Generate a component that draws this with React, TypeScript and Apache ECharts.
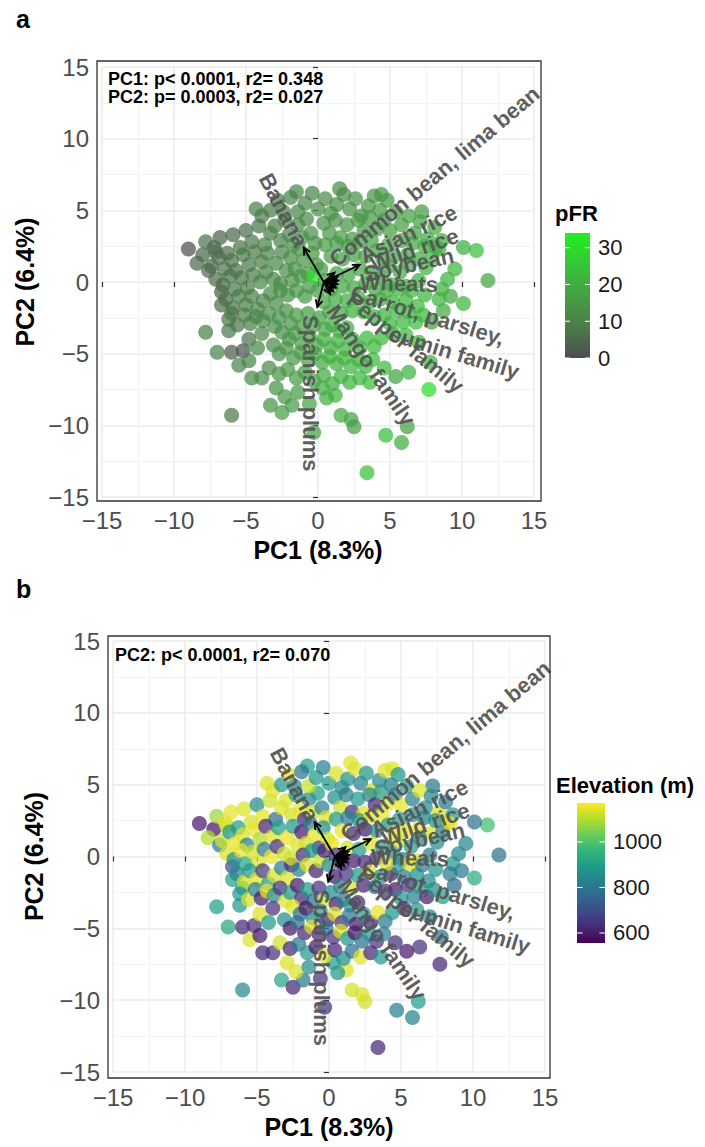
import React, { useEffect, useRef } from "react";
import * as echarts from "echarts";

// ---------- point data (PCA scores, same samples in both panels) ----------
const pc1 = [
  -9.0, -8.0, -8.4, -7.6, -7.1, -7.8, -6.7, -6.7, -6.0, -7.8,
  -6.2, -7.0, -6.0, -5.2, -4.8, -5.5, -4.6, -3.9, -3.3, -2.5,
  -2.9, -6.0, -1.8, -0.3, 0.3, 1.2, 2.3, 2.5, 3.4, 1.6,
  4.7, 5.8, 6.2, 7.7, 6.3, 5.4, 7.8, 7.9, 8.7, 10.1,
  9.2, 11.8, 11.0, 10.1, 8.2, 7.2, 4.4, 1.5, -1.5, -4.3,
  -7.2, -6.8, -6.3, -5.9, -5.4, -5.0, -4.6, -4.1, -3.7, -3.3,
  -7.4, -6.9, -6.5, -6.0, -5.7, -5.2, -4.8, -4.4, -3.9, -3.5,
  -7.1, -6.6, -6.1, -5.8, -5.3, -4.9, -4.5, -4.0, -3.6, -3.1,
  -6.4, -5.9, -5.5, -5.0, -4.6, -4.2, -3.8, -3.3, -2.9, -2.6,
  -6.2, -5.6, -5.1, -4.7, -4.3, -3.8, -3.4, -3.0, -2.7, -2.2,
  -3.0, -2.6, -2.3, -2.0, -1.7, -1.4, -1.1, -0.8, -0.5, -0.2,
  -2.9, -2.5, -2.2, -1.9, -1.6, -1.3, -1.0, -0.7, -0.4, -0.1,
  -2.6, -2.1, -1.8, -1.5, -1.2, -0.9, -0.6, -0.3, 0.0, 0.2,
  -3.9, -3.3, -2.8, -2.4, -1.9, -1.4, -0.9, -0.4, 0.0, 0.5,
  0.9, 1.3, 1.8, 2.2, 2.6, 3.0, 3.5, 3.9, 4.3, 4.8,
  0.4, 0.8, 1.2, 1.6, 2.0, 2.4, 2.8, 3.2, 3.6, 4.1,
  0.5, 0.9, 1.3, 1.7, 2.1, 2.5, 2.9, 3.3, 3.7, 4.1,
  4.6, 5.0, 5.4, 5.8, 6.3, 6.7, 7.1, 7.6, 8.1, 8.6,
  4.5, 4.9, 5.3, 5.8, 6.2, 6.6, 7.0, 7.4, 7.9, 8.4,
  4.4, 4.9, 5.1, 5.7, 6.1, 6.3, 7.0, 7.5, 8.6, 9.5,
  4.3, 4.8, 5.2, 5.6, 6.1, 6.5, 6.9, 7.4, 8.4, 9.0,
  4.6, 5.0, 5.5, 5.9, 6.3, 6.8, 7.3, 5.2, 6.1, 7.0,
  0.5, 0.9, 1.3, 1.7, 2.1, 2.5, 2.9, 3.3, 3.7, 4.0,
  0.4, 0.8, 1.2, 1.6, 2.0, 2.4, 2.8, 3.2, 3.6, 3.9,
  -1.9, -1.5, -1.1, -0.7, -0.3, 0.1, 0.5, 1.0, 1.5, 2.0,
  -2.5, -2.0, -1.6, -1.1, -0.6, -0.1, 0.4, 0.9, 1.4, 1.9,
  2.4, 2.9, 3.4, 3.9, 4.4, -3.1, -2.7, -2.2, -1.7, -1.2,
  -0.7, -0.2, 0.3, 0.8, 1.3, 1.8, 2.3, 2.8, 3.3, 3.8,
  -3.4, -2.7, -2.1, -1.5, -0.9, -0.3, 0.4, 1.0, 1.6, 2.2,
  -4.2, -3.9, -4.8, -2.3, -1.4, -0.6, 0.6, 2.9, 3.6, 4.6,
];
const pc2 = [
  2.3, 1.9, 1.3, 0.8, 2.1, 2.8, -0.7, -1.6, -2.2, -3.5,
  -3.4, -4.9, -4.9, -4.8, -4.0, -5.8, -6.7, -6.7, -8.6, -9.1,
  -7.4, -9.3, -8.6, -10.5, -7.4, -7.9, -9.6, -10.1, -13.3, -9.3,
  -10.7, -11.2, -10.1, -7.5, -6.3, -6.6, -5.6, -2.8, -2.0, -1.5,
  -1.0, 0.1, 2.2, 2.4, 2.4, 4.9, 6.1, 6.5, 6.3, 5.1,
  2.4, 3.1, 2.0, 3.3, 2.4, 3.6, 2.8, 3.9, 2.6, 3.4,
  1.1, 1.7, 0.9, 1.5, 0.8, 1.9, 1.2, 2.1, 1.4, 2.0,
  0.2, -0.2, 0.4, -0.5, 0.3, -0.4, 0.5, 0.0, 0.7, 0.2,
  -1.2, -1.8, -1.0, -1.6, -1.0, -1.9, -1.3, -0.8, -1.5, -0.6,
  -2.6, -3.0, -2.3, -2.9, -2.4, -2.7, -2.2, -3.1, -2.5, -2.0,
  3.9, 2.9, 4.3, 3.3, 2.6, 4.0, 3.1, 4.4, 3.4, 2.7,
  1.3, 2.1, 0.8, 1.7, 0.9, 2.3, 1.5, 0.6, 2.0, 1.2,
  -0.1, -0.9, 0.1, -0.6, 0.4, -1.0, -0.3, 0.4, -0.6, 0.9,
  4.6, 5.0, 5.7, 4.9, 5.9, 4.9, 5.5, 6.2, 5.1, 5.8,
  4.8, 5.4, 6.1, 5.1, 5.8, 4.6, 5.3, 6.0, 5.0, 5.7,
  4.1, 3.4, 4.3, 3.1, 4.0, 3.0, 4.3, 3.6, 4.5, 3.7,
  2.6, 1.8, 2.7, 1.6, 2.5, 1.9, 2.8, 1.8, 2.9, 2.2,
  4.3, 3.6, 4.9, 4.0, 4.6, 3.4, 4.2, 3.0, 3.8, 2.9,
  1.6, 2.6, 1.8, 2.9, 1.9, 2.7, 1.6, 2.5, 1.7, 2.3,
  0.3, 1.1, -0.2, 0.7, -0.3, 1.3, 0.1, 1.0, -0.5, 0.9,
  -1.2, -0.6, -1.4, -0.5, -1.3, -0.6, -1.7, -0.9, -1.2, 0.2,
  -2.3, -2.9, -2.0, -2.8, -2.1, -2.8, -2.3, -3.6, -3.7, -4.2,
  0.1, -0.5, 0.6, -0.3, 0.5, -0.4, 0.9, -0.1, 0.7, -0.5,
  -1.4, -2.1, -1.2, -2.2, -1.3, -2.0, -1.1, -2.1, -1.4, -2.4,
  -2.9, -2.3, -3.1, -2.2, -3.0, -2.5, -3.3, -3.0, -3.4, -3.2,
  -3.5, -4.0, -3.6, -4.3, -3.8, -4.4, -4.0, -4.6, -4.1, -4.7,
  -4.0, -4.6, -3.9, -4.5, -3.9, -4.4, -5.0, -4.6, -5.3, -4.9,
  -5.4, -5.0, -5.6, -5.2, -5.7, -5.3, -5.9, -5.4, -5.9, -5.4,
  -6.0, -6.4, -6.1, -6.7, -6.3, -6.9, -6.5, -7.1, -6.6, -7.0,
  -4.6, -3.6, -5.5, -8.0, -7.7, -8.5, -8.1, -6.7, -7.0, -6.0,
];
const pfr = [
  1, 4, 5, 6, 6, 7, 3, 6, 7, 9,
  8, 10, 3, 1, 7, 10, 12, 12, 14, 16,
  13, 8, 15, 18, 20, 22, 17, 16, 24, 19,
  24, 20, 18, 30, 21, 18, 22, 17, 19, 22,
  18, 18, 24, 20, 17, 16, 15, 12, 11, 9,
  5, 4, 6, 5, 7, 6, 8, 7, 9, 9,
  5, 6, 7, 6, 7, 8, 8, 8, 9, 10,
  6, 5, 7, 8, 7, 9, 8, 10, 10, 11,
  6, 7, 8, 9, 9, 10, 10, 11, 12, 12,
  8, 7, 9, 9, 10, 11, 12, 12, 13, 13,
  9, 10, 10, 11, 12, 11, 12, 12, 13, 13,
  11, 11, 12, 12, 13, 13, 14, 14, 14, 15,
  12, 13, 13, 14, 14, 15, 15, 31, 16, 16,
  8, 8, 9, 10, 10, 11, 11, 10, 12, 12,
  13, 12, 12, 13, 13, 14, 14, 14, 15, 15,
  13, 14, 13, 15, 14, 15, 15, 16, 15, 16,
  15, 16, 15, 16, 16, 17, 16, 17, 17, 18,
  16, 17, 16, 17, 17, 18, 18, 19, 19, 20,
  18, 18, 19, 18, 19, 19, 20, 20, 21, 21,
  19, 19, 20, 19, 20, 20, 21, 21, 21, 22,
  20, 20, 21, 20, 21, 21, 22, 22, 22, 21,
  21, 22, 21, 22, 22, 23, 22, 22, 23, 23,
  17, 17, 17, 18, 18, 18, 18, 19, 19, 19,
  18, 18, 19, 19, 19, 20, 20, 20, 20, 21,
  14, 15, 15, 16, 17, 17, 18, 19, 19, 20,
  13, 14, 15, 16, 17, 18, 19, 19, 20, 21,
  21, 21, 22, 22, 22, 12, 13, 14, 15, 16,
  17, 18, 19, 20, 20, 21, 21, 22, 22, 22,
  12, 13, 15, 16, 17, 18, 19, 20, 21, 21,
  11, 11, 10, 15, 16, 18, 19, 22, 23, 23,
];
const elevation = [
  600, 590, 1100, 820, 1120, 1080, 700, 900, 880, 900,
  880, 920, 620, 640, 1140, 1140, 620, 640, 920, 620,
  1140, 850, 800, 640, 900, 1140, 1140, 1130, 620, 1130,
  820, 830, 900, 620, 640, 600, 800, 900, 780, 940,
  800, 790, 980, 790, 1140, 800, 1140, 1140, 900, 1140,
  1140, 1150, 900, 1140, 1130, 860, 1150, 1120, 780, 1140,
  1130, 880, 1150, 1140, 830, 1150, 1100, 620, 1140, 900,
  1140, 860, 1150, 920, 1130, 1140, 800, 1150, 640, 1130,
  840, 1130, 880, 1150, 660, 880, 1140, 830, 1140, 620,
  880, 1130, 820, 600, 1150, 850, 640, 1140, 880, 600,
  1140, 1130, 880, 1150, 620, 840, 1130, 900, 820, 1140,
  1150, 880, 1140, 600, 1130, 820, 1150, 640, 860, 1120,
  1130, 820, 640, 1140, 880, 610, 1130, 620, 860, 1150,
  1140, 880, 1150, 860, 800, 1120, 880, 820, 880, 1140,
  830, 860, 1140, 820, 880, 1130, 840, 1140, 800, 880,
  860, 1130, 820, 640, 880, 1140, 840, 620, 880, 1140,
  880, 1150, 820, 620, 880, 600, 1140, 840, 1150, 880,
  840, 1150, 880, 820, 1140, 860, 840, 1140, 800, 880,
  1150, 880, 1140, 860, 1150, 820, 1140, 860, 800, 1150,
  880, 1140, 820, 880, 1150, 840, 800, 860, 880, 840,
  620, 880, 820, 1140, 860, 800, 840, 880, 800, 840,
  600, 880, 640, 820, 880, 600, 860, 620, 880, 840,
  640, 620, 1130, 600, 880, 620, 1140, 640, 880, 1130,
  600, 800, 640, 1140, 880, 620, 1130, 780, 860, 640,
  620, 880, 780, 640, 1140, 860, 600, 800, 880, 620,
  1140, 780, 600, 820, 880, 620, 1140, 640, 800, 600,
  880, 620, 1150, 800, 880, 860, 600, 780, 620, 1140,
  620, 800, 640, 1140, 880, 600, 780, 880, 640, 820,
  1130, 620, 800, 880, 600, 1140, 620, 860, 780, 1140,
  880, 640, 600, 1140, 860, 640, 880, 620, 880, 640,
];

// ---------- loadings (arrows) ----------
const arrowOrigin = [0.4, 0.0];
const arrowX = [-1.0, -0.05, 2.9, 1.15, 1.35, 1.4, 1.35, 1.25, 1.05, 0.85];
const arrowY = [2.4, -1.75, 1.2, 0.65, 0.35, 0.1, -0.15, -0.4, -0.65, -0.85];

// ---------- loading labels ----------
const labelTexts = [
  "Banana", "Spanish plums", "Common bean, lima bean", "Asian rice", "Wild rice",
  "Soybean", "Wheats", "Carrot, parsley,", "cumin family", "Pepper family", "Mango family",
];
const labelX = [-1.11, -0.55, 1.0, 3.0, 3.7, 3.2, 2.9, 2.3, 5.0, 2.2, 0.95];
const labelY = [2.58, -2.3, 1.4, 1.75, 1.2, 0.5, 0.0, -0.7, -3.56, -1.05, -1.74];
const labelAngle = [-62, -90, 40, 26, 19, 12.5, -2, -17, -17, -39.5, -56];
const labelAlign = ["right", "left", "left", "left", "left", "left", "left", "left", "left", "left", "left"];

// ---------- axes & legends ----------
const axisTickValues = [-15, -10, -5, 0, 5, 10, 15];
const pfrTicks = [0, 10, 20, 30];
const pfrRange = [0, 34];
const elevationTicks = [600, 800, 1000];
const elevationRange = [556, 1171];

const FONT = '"Liberation Sans", Arial, Helvetica, sans-serif';
const pfrColors = ["#4D4D4D", "#4B7D4B", "#45A045", "#36C636", "#1FF01F"];
const viridis = ["#440154", "#482878", "#3E4A89", "#31688E", "#26828E", "#1F9E89", "#35B779", "#6DCD59", "#B4DE2C", "#FDE725"];

const panels = [
  {
    grid: { left: 102, top: 67, width: 432, height: 430 },
    border: { x: 97, y: 61, width: 444, height: 440 },
    xOffset: 4, yOffset: 5, yNameGap: 54,
    bar: { x: 565, y: 233, width: 25, height: 125 },
    letter: { text: "a", x: 16, y: 19 },
    legendTitle: { text: "pFR", x: 555, y: 213 },
    stats: ["PC1: p< 0.0001, r2= 0.348", "PC2: p= 0.0003, r2= 0.027"],
    statsPos: { x: 108, y: 79 },
    ticks: pfrTicks, range: pfrRange, colors: pfrColors,
  },
  {
    grid: { left: 113, top: 641, width: 432, height: 431 },
    border: { x: 108, y: 636, width: 442, height: 442 },
    xOffset: 6, yOffset: 5, yNameGap: 62,
    bar: { x: 577, y: 803, width: 28, height: 140 },
    letter: { text: "b", x: 16, y: 589 },
    legendTitle: { text: "Elevation (m)", x: 556, y: 785 },
    stats: ["PC2: p< 0.0001, r2= 0.070"],
    statsPos: { x: 115, y: 655 },
    ticks: elevationTicks, range: elevationRange, colors: viridis,
  },
];

const minusFmt = (v: number) => (v < 0 ? "\u2212" + Math.abs(v) : String(v));

function makeXAxis(i: number) {
  return {
    type: "value", gridIndex: i,
    min: axisTickValues[0], max: axisTickValues[axisTickValues.length - 1], interval: 5,
    offset: panels[i].xOffset,
    name: "PC1 (8.3%)", nameLocation: "middle", nameGap: 36,
    nameTextStyle: { fontFamily: FONT, fontWeight: "bold", fontSize: 25, color: "#000" },
    axisLine: { show: false },
    axisTick: { show: true, length: 5, lineStyle: { color: "#333", width: 1.2 } },
    axisLabel: { margin: 7, fontFamily: FONT, fontSize: 24, color: "#4D4D4D", formatter: minusFmt },
    splitLine: { show: true, lineStyle: { color: "#EBEBEB", width: 1.5 } },
    minorTick: { show: false, splitNumber: 2 },
    minorSplitLine: { show: true, lineStyle: { color: "#F3F3F3", width: 1 } },
  };
}
function makeYAxis(i: number) {
  return {
    type: "value", gridIndex: i,
    min: axisTickValues[0], max: axisTickValues[axisTickValues.length - 1], interval: 5,
    offset: panels[i].yOffset,
    name: "PC2 (6.4%)", nameLocation: "middle", nameGap: panels[i].yNameGap, nameRotate: 90,
    nameTextStyle: { fontFamily: FONT, fontWeight: "bold", fontSize: 25, color: "#000" },
    axisLine: { show: false },
    axisTick: { show: true, length: 5, lineStyle: { color: "#333", width: 1.2 } },
    axisLabel: { margin: 8, fontFamily: FONT, fontSize: 24, color: "#4D4D4D", formatter: minusFmt },
    splitLine: { show: true, lineStyle: { color: "#EBEBEB", width: 1.5 } },
    minorTick: { show: false, splitNumber: 2 },
    minorSplitLine: { show: true, lineStyle: { color: "#F3F3F3", width: 1 } },
  };
}

function arrowSeries(i: number) {
  return {
    type: "custom", xAxisIndex: i, yAxisIndex: i, z: 5, silent: true, clip: false,
    data: arrowX.map((x, k) => [x, arrowY[k]]),
    renderItem: (params: any, api: any) => {
      const o = api.coord(arrowOrigin);
      const t = api.coord([api.value(0), api.value(1)]);
      const ang = Math.atan2(t[1] - o[1], t[0] - o[0]);
      const L = 8, A = Math.PI / 7;
      const h1 = [t[0] - L * Math.cos(ang - A), t[1] - L * Math.sin(ang - A)];
      const h2 = [t[0] - L * Math.cos(ang + A), t[1] - L * Math.sin(ang + A)];
      return {
        type: "group",
        children: [
          { type: "line", shape: { x1: o[0], y1: o[1], x2: t[0], y2: t[1] }, style: { stroke: "#000", lineWidth: 1.8 } },
          { type: "polyline", shape: { points: [h1, t, h2] }, style: { stroke: "#000", fill: null, lineWidth: 1.8 } },
        ],
      };
    },
  };
}

function labelSeries(i: number) {
  return {
    type: "custom", xAxisIndex: i, yAxisIndex: i, z: 6, silent: true, clip: false,
    data: labelX.map((x, k) => [x, labelY[k]]),
    renderItem: (params: any, api: any) => {
      const k = params.dataIndex;
      const p = api.coord([api.value(0), api.value(1)]);
      return {
        type: "text", x: p[0], y: p[1], rotation: (labelAngle[k] * Math.PI) / 180,
        style: {
          text: labelTexts[k], fill: "#555555", opacity: 0.95,
          font: `bold 22px ${FONT}`, align: labelAlign[k], verticalAlign: "middle",
        },
      };
    },
  };
}

function legendGraphics(i: number) {
  const p = panels[i];
  const b = p.bar;
  const [lo, hi] = p.range;
  const toY = (v: number) => b.y + b.height - ((v - lo) / (hi - lo)) * b.height;
  const stops = p.colors.map((c, k) => ({ offset: k / (p.colors.length - 1), color: c }));
  const els: any[] = [
    {
      type: "rect", shape: { x: b.x, y: b.y, width: b.width, height: b.height },
      style: { fill: new echarts.graphic.LinearGradient(0, 1, 0, 0, stops) },
    },
    {
      type: "text", x: p.legendTitle.x, y: p.legendTitle.y,
      style: { text: p.legendTitle.text, font: `bold 22px ${FONT}`, fill: "#000", verticalAlign: "middle" },
    },
  ];
  p.ticks.forEach((v) => {
    const y = toY(v);
    const tl = b.width / 5;
    els.push({ type: "line", shape: { x1: b.x, y1: y, x2: b.x + tl, y2: y }, style: { stroke: "#fff", lineWidth: 1 } });
    els.push({ type: "line", shape: { x1: b.x + b.width - tl, y1: y, x2: b.x + b.width, y2: y }, style: { stroke: "#fff", lineWidth: 1 } });
    els.push({
      type: "text", x: b.x + b.width + 8, y,
      style: { text: String(v), font: `22px ${FONT}`, fill: "#1A1A1A", verticalAlign: "middle" },
    });
  });
  els.push({
    type: "rect", z: 100, shape: { ...p.border },
    style: { fill: null, stroke: "#333", lineWidth: 1.3 },
  });
  els.push({
    type: "text", x: p.letter.x, y: p.letter.y,
    style: { text: p.letter.text, font: `bold 25px ${FONT}`, fill: "#000", verticalAlign: "middle" },
  });
  p.stats.forEach((s, k) => {
    els.push({
      type: "text", x: p.statsPos.x, y: p.statsPos.y + k * 18, z: 100,
      style: { text: s, font: `bold 18px ${FONT}`, fill: "#000", verticalAlign: "middle" },
    });
  });
  return els;
}

export default function App() {
  const ref = useRef<HTMLDivElement>(null);
  useEffect(() => {
    if (!ref.current) return;
    const chart = echarts.init(ref.current, undefined, { renderer: "svg" });
    const option: any = {
      animation: false,
      backgroundColor: "#fff",
      grid: panels.map((p) => ({ ...p.grid })),
      xAxis: [makeXAxis(0), makeXAxis(1)],
      yAxis: [makeYAxis(0), makeYAxis(1)],
      visualMap: [
        { type: "continuous", show: false, seriesIndex: 0, dimension: 2, min: pfrRange[0], max: pfrRange[1], inRange: { color: pfrColors } },
        { type: "continuous", show: false, seriesIndex: 1, dimension: 2, min: elevationRange[0], max: elevationRange[1], inRange: { color: viridis } },
      ],
      series: [
        {
          type: "scatter", xAxisIndex: 0, yAxisIndex: 0, symbolSize: 15, silent: true,
          itemStyle: { opacity: 0.72 },
          data: pc1.map((x, k) => [x, pc2[k], pfr[k]]),
        },
        {
          type: "scatter", xAxisIndex: 1, yAxisIndex: 1, symbolSize: 15, silent: true,
          itemStyle: { opacity: 0.72 },
          data: pc1.map((x, k) => [x, pc2[k], elevation[k]]),
        },
        arrowSeries(0),
        labelSeries(0),
        arrowSeries(1),
        labelSeries(1),
      ],
      graphic: [...legendGraphics(0), ...legendGraphics(1)],
    };
    chart.setOption(option);
    return () => chart.dispose();
  }, []);
  return <div ref={ref} style={{ position: "absolute", left: 0, top: 0, width: 705, height: 1147 }} />;
}
